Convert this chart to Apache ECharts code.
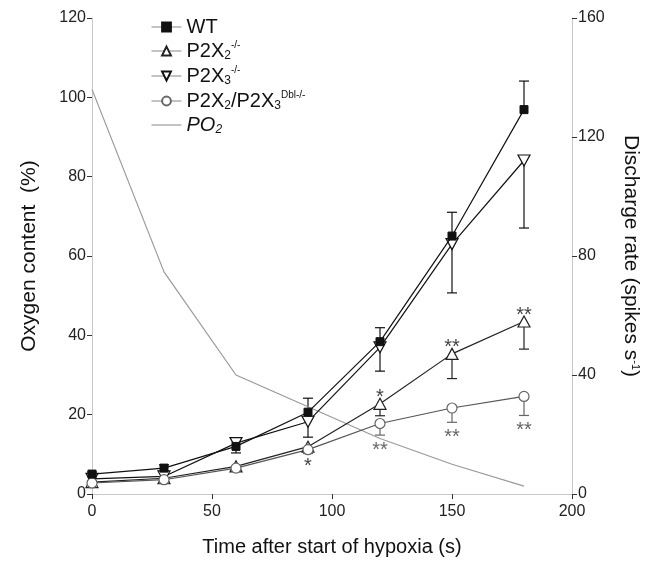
<!DOCTYPE html>
<html>
<head>
<meta charset="utf-8">
<script src="https://cdn.jsdelivr.net/npm/echarts@6/dist/echarts.min.js"></script>
<style>
html,body{margin:0;padding:0;background:#fff}
#chart{width:661px;height:562px}
</style>
</head>
<body>
<div id="chart"></div>
<script>
// time after start of hypoxia (s)
var times = [0, 30, 60, 90, 120, 150, 180];
// discharge rate (spikes/s), right axis
var wt      = [6.7, 8.7, 16, 27.5, 51.2, 86.7, 129.2];
var wtErr   = [0.7, 1.1, 2.5, 4.7, 4.7, 8, 9.6];        // drawn upward
var p2x3    = [5.1, 5.9, 17.1, 24.3, 49.3, 84, 112.1];
var p2x3Err = [0.7, 1.1, 3.3, 5.2, 8, 16.4, 22.7];      // drawn downward
var p2x2    = [4, 5.3, 9.3, 15.9, 30.3, 47.1, 58];
var p2x2Err = [0.7, 0.7, 1.3, 1.6, 4, 8.3, 9.3];        // drawn downward
var dbl     = [3.7, 4.8, 8.7, 14.9, 23.7, 28.9, 32.8];
var dblErr  = [0.4, 0.5, 1.1, 1.3, 3.9, 4.8, 6.4];      // drawn downward
// oxygen content (%), left axis
var po2     = [102, 56, 30, 22, 14, 7.5, 2];
// significance marks: [time index, text, side]
var p2x2Stars = [[3, '*', 'below'], [4, '*', 'above'], [5, '**', 'above'], [6, '**', 'above']];
var dblStars  = [[4, '**', 'below'], [5, '**', 'below'], [6, '**', 'below']];

var xTicks = [0, 50, 100, 150, 200];

var FONT = "'Liberation Sans', Arial, sans-serif";
var names = ['WT', 'P2X2-/-', 'P2X3-/-', 'P2X2/P2X3Dbl-/-', 'PO2'];
var legendText = {
	'WT': '{n|WT}',
	'P2X2-/-': '{n|P2X}{sub|2}{sup|-/-}',
	'P2X3-/-': '{n|P2X}{sub|3}{sup|-/-}',
	'P2X2/P2X3Dbl-/-': '{n|P2X}{sub|2}{n|/P2X}{sub|3}{sup|Dbl-/-}',
	'PO2': '{i|PO}{isub|2}'
};

function pairs(vals){
	var out = [];
	for(var i=0;i<times.length;i++){ out.push([times[i], vals[i]]); }
	return out;
}
function errData(vals, errs){
	var out = [];
	for(var i=0;i<times.length;i++){ out.push([times[i], vals[i], errs[i]]); }
	return out;
}
//error bar series, dir 1 = up, -1 = down
function errSeries(vals, errs, dir, color){
	return {
		type: 'custom', name: 'err', yAxisIndex: 1, z: 1, silent: true,
		data: errData(vals, errs),
		renderItem: function(params, api){
			var x = api.value(0), y = api.value(1), e = api.value(2);
			var p0 = api.coord([x, y]);
			var p1 = api.coord([x, y + dir*e]);
			var w = 5;
			return {type: 'group', children: [
				{type: 'line', shape: {x1: p0[0], y1: p0[1], x2: p1[0], y2: p1[1]}, style: {stroke: color, lineWidth: 1.2}},
				{type: 'line', shape: {x1: p1[0]-w, y1: p1[1], x2: p1[0]+w, y2: p1[1]}, style: {stroke: color, lineWidth: 1.2}}
			]};
		}
	};
}
function starSeries(stars, vals, errs, color){
	var d = [];
	for(var i=0;i<stars.length;i++){ d.push([times[stars[i][0]], vals[stars[i][0]], errs[stars[i][0]]]); }
	return {
		type: 'custom', name: 'stars', yAxisIndex: 1, z: 5, silent: true,
		data: d,
		renderItem: function(params, api){
			var s = stars[params.dataIndex];
			var x = api.value(0), y = api.value(1), e = api.value(2);
			var py = s[2] === 'above' ? api.coord([x, y])[1] - 6 : api.coord([x, y - e])[1] + 15;
			var px = api.coord([x, y])[0];
			return {type: 'text', style: {text: s[1], x: px, y: py, fill: color, font: '20px ' + FONT, textAlign: 'center', textVerticalAlign: 'middle'}};
		}
	};
}

var myChart = echarts.init(document.getElementById('chart'));
myChart.setOption({
	animation: false,
	backgroundColor: '#fff',
	textStyle: {fontFamily: FONT},
	grid: {left: 92, right: 89, top: 18, bottom: 68},
	legend: {
		data: names,
		orient: 'vertical',
		left: 146, top: 12,
		itemWidth: 30, itemHeight: 11, itemGap: 3,
		lineStyle: {color: '#888', width: 1},
		formatter: function(name){ return legendText[name]; },
		textStyle: {
			color: '#111',
			rich: {
				n: {fontSize: 20, lineHeight: 22, fontFamily: FONT, color: '#111'},
				sub: {fontSize: 12, lineHeight: 6, verticalAlign: 'bottom', fontFamily: FONT, color: '#111'},
				sup: {fontSize: 10, lineHeight: 8, verticalAlign: 'top', fontFamily: FONT, color: '#111'},
				i: {fontSize: 20, lineHeight: 22, fontStyle: 'italic', fontFamily: FONT, color: '#111'},
				isub: {fontSize: 12, lineHeight: 6, verticalAlign: 'bottom', fontStyle: 'italic', fontFamily: FONT, color: '#111'}
			}
		}
	},
	xAxis: {
		type: 'value', min: 0, max: 200, interval: 50,
		name: 'Time after start of hypoxia (s)', nameLocation: 'middle', nameGap: 43,
		nameTextStyle: {fontSize: 20, color: '#111', fontFamily: FONT},
		axisLine: {show: true, lineStyle: {color: '#c8c8c8', width: 1}},
		axisTick: {show: true, length: 5, lineStyle: {color: '#333'}},
		axisLabel: {fontSize: 16, color: '#222', margin: 10, fontFamily: FONT,
			customValues: xTicks},
		splitLine: {show: false}
	},
	yAxis: [{
		type: 'value', min: 0, max: 120, interval: 20, position: 'left',
		name: 'Oxygen content  (%)', nameLocation: 'middle', nameGap: 52,
		nameTextStyle: {fontSize: 21, color: '#111', fontFamily: FONT},
		axisLine: {show: true, lineStyle: {color: '#c8c8c8', width: 1}},
		axisTick: {show: true, length: 5, lineStyle: {color: '#333'}},
		axisLabel: {fontSize: 16, color: '#222', margin: 6, fontFamily: FONT},
		splitLine: {show: false}
	}, {
		type: 'value', min: 0, max: 160, interval: 40, position: 'right',
		name: 'Discharge rate (spikes s{sup|-1})', nameLocation: 'middle', nameGap: 48, nameRotate: -90,
		nameTextStyle: {fontSize: 21, color: '#111', fontFamily: FONT,
			rich: {sup: {fontSize: 11, verticalAlign: 'top', lineHeight: 8, color: '#111', fontFamily: FONT}}},
		axisLine: {show: true, lineStyle: {color: '#c8c8c8', width: 1}},
		axisTick: {show: true, length: 5, lineStyle: {color: '#333'}},
		axisLabel: {fontSize: 16, color: '#222', margin: 6, fontFamily: FONT},
		splitLine: {show: false}
	}],
	series: [
		errSeries(wt, wtErr, 1, '#111'),
		errSeries(p2x3, p2x3Err, -1, '#111'),
		errSeries(p2x2, p2x2Err, -1, '#222'),
		errSeries(dbl, dblErr, -1, '#666'),
		{
			name: 'WT', type: 'line', yAxisIndex: 1, z: 4, data: pairs(wt),
			symbol: 'rect', symbolSize: 8,
			lineStyle: {color: '#111', width: 1.2},
			itemStyle: {color: '#111', borderColor: '#111', borderWidth: 1}
		},
		{
			name: 'P2X2-/-', type: 'line', yAxisIndex: 1, z: 3, data: pairs(p2x2),
			symbol: 'triangle', symbolSize: [12, 11],
			lineStyle: {color: '#222', width: 1.2},
			itemStyle: {color: '#fff', borderColor: '#222', borderWidth: 1.2}
		},
		{
			name: 'P2X3-/-', type: 'line', yAxisIndex: 1, z: 3, data: pairs(p2x3),
			symbol: 'path://M0,0 L10,0 L5,9 Z', symbolSize: [12, 11],
			lineStyle: {color: '#111', width: 1.2},
			itemStyle: {color: '#fff', borderColor: '#111', borderWidth: 1.2}
		},
		{
			name: 'P2X2/P2X3Dbl-/-', type: 'line', yAxisIndex: 1, z: 3, data: pairs(dbl),
			symbol: 'circle', symbolSize: 10,
			lineStyle: {color: '#555', width: 1.2},
			itemStyle: {color: '#fff', borderColor: '#666', borderWidth: 1.2}
		},
		{
			name: 'PO2', type: 'line', yAxisIndex: 0, z: 2, data: pairs(po2),
			symbol: 'none', showSymbol: false,
			lineStyle: {color: '#999', width: 1.2},
			itemStyle: {color: '#999', opacity: 0}
		},
		starSeries(p2x2Stars, p2x2, p2x2Err, '#444'),
		starSeries(dblStars, dbl, dblErr, '#666')
	]
});
</script>
</body>
</html>
